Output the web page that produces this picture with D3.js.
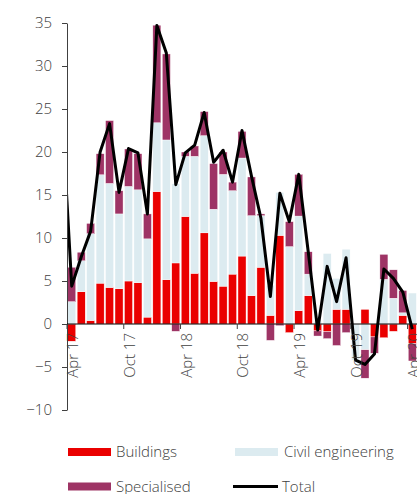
<!DOCTYPE html>
<html>
<head>
<meta charset="utf-8">
<script src="https://cdn.jsdelivr.net/npm/d3@7"></script>
<style>
  html, body { margin: 0; padding: 0; background: #fff; }
  svg text { font-family: "Open Sans", "DejaVu Sans", sans-serif; font-weight: 300; }
</style>
</head>
<body>
<div id="chart"></div>
<script>
// months, Mar 17 only feeds the start of the total line (it is clipped)
var months = ["Mar 17","Apr 17","May 17","Jun 17","Jul 17","Aug 17","Sep 17","Oct 17","Nov 17","Dec 17",
  "Jan 18","Feb 18","Mar 18","Apr 18","May 18","Jun 18","Jul 18","Aug 18","Sep 18","Oct 18","Nov 18","Dec 18",
  "Jan 19","Feb 19","Mar 19","Apr 19","May 19","Jun 19","Jul 19","Aug 19","Sep 19","Oct 19","Nov 19","Dec 19",
  "Jan 20","Feb 20","Mar 20","Apr 20"];
var tickMonths = ["Apr 17","Oct 17","Apr 18","Oct 18","Apr 19","Oct 19","Apr 20"];
var yTicks = [-10, -5, 0, 5, 10, 15, 20, 25, 30, 35];

var buildings = [null, -2.0, 3.75, 0.4, 4.75, 4.25, 4.1, 5.0, 4.8, 0.8,
  15.4, 5.15, 7.1, 12.5, 5.9, 10.6, 4.95, 4.4, 5.8, 7.9, 3.3, 6.6,
  1.0, 10.3, -1.0, 1.55, 3.3, -0.8, -0.9, 1.7, 1.7, 0, 1.7, -1.5,
  -1.6, -0.85, 1.0, -2.3];
var civil = [null, 2.6, 3.6, 10.1, 12.6, 12.1, 8.7, 11.0, 10.8, 9.1,
  8.0, 16.25, 9.2, 7.0, 13.6, 11.3, 8.4, 13.0, 9.7, 11.4, 9.3, 6.0,
  3.5, 5.0, 9.0, 11.0, 2.5, 0.3, 8.2, 3.6, 7.0, -4.2, -3.0, 0,
  5.2, 3.0, 0.3, 3.6];
var specialised = [null, 4.0, 1.0, 1.2, 2.45, 7.3, 2.7, 4.35, 4.2, 2.9,
  11.35, 10.0, -0.85, 0.5, 1.2, 2.8, 5.3, 2.6, 1.0, 3.1, 4.5, 0.2,
  -1.9, -0.2, 2.9, 4.85, 2.6, -0.6, -0.8, -2.5, -1.0, 0, -3.3, -1.9,
  2.9, 3.3, 2.6, -2.0];
var total = [24, 4.4, 7.8, 10.8, 20.0, 23.3, 15.3, 20.4, 19.9, 12.8,
  34.7, 31.5, 16.2, 19.9, 20.8, 24.6, 18.8, 20.2, 16.5, 22.5, 17.2, 12.3,
  3.2, 15.2, 11.9, 17.4, 8.4, -0.7, 6.7, 2.6, 7.7, -4.2, -4.7, -3.5,
  6.4, 5.3, 3.7, -0.6];

var keys = ["buildings", "civil", "specialised"];
var colors = { buildings: "#ea0000", civil: "#dcebf0", specialised: "#9e3465" };
var textColor = "#404040";

var chartW = 417, chartH = 494;
var plotLeft = 67, plotTop = 23, plotBottom = 410;
var step = 9.46;

var svg = d3.select("#chart").append("svg")
  .attr("width", chartW)
  .attr("height", chartH);

var x = d3.scaleBand()
  .domain(months)
  .range([plotLeft - step, plotLeft + (months.length - 1) * step])
  .paddingInner(0.15)
  .paddingOuter(0.075);

var y = d3.scaleLinear()
  .domain([-10, 35])
  .range([plotBottom, plotTop]);

svg.append("clipPath").attr("id", "plotClip")
  .append("rect").attr("x", plotLeft).attr("y", 0).attr("width", chartW - plotLeft).attr("height", chartH);

// table for the stack
var rows = [];
months.forEach(function(m, i) {
  if (buildings[i] == null) return;
  rows.push({ month: m, buildings: buildings[i], civil: civil[i], specialised: specialised[i] });
});

var series = d3.stack().keys(keys).offset(d3.stackOffsetDiverging)(rows);

var plot = svg.append("g").attr("clip-path", "url(#plotClip)");

plot.selectAll("g.layer")
  .data(series)
  .join("g")
  .attr("class", "layer")
  .attr("fill", function(d) { return colors[d.key]; })
  .selectAll("rect")
  .data(function(d) { return d; })
  .join("rect")
  .attr("x", function(d) { return x(d.data.month); })
  .attr("width", x.bandwidth())
  .attr("y", function(d) { return y(Math.max(d[0], d[1])); })
  .attr("height", function(d) { return Math.abs(y(d[0]) - y(d[1])); })
  .attr("stroke", "#fff")
  .attr("stroke-width", 0.4);

// y axis
var yAxis = svg.append("g")
  .attr("transform", "translate(" + plotLeft + ",0)")
  .call(d3.axisLeft(y).tickValues(yTicks).tickSize(5).tickSizeOuter(0).tickPadding(10));
yAxis.select(".domain").attr("stroke", textColor);
yAxis.selectAll(".tick line").attr("stroke", textColor);
yAxis.selectAll(".tick text")
  .attr("fill", textColor)
  .attr("font-size", 15);

// x axis on zero line, ticks at the left edge of each month
var xAxis = svg.append("g")
  .attr("transform", "translate(0," + y(0) + ")")
  .call(d3.axisBottom(x).tickValues(tickMonths).tickSize(5).tickSizeOuter(0));
xAxis.select(".domain").attr("d", "M" + plotLeft + ",0H" + chartW).attr("stroke", "#000");
xAxis.selectAll(".tick")
  .attr("transform", function(d) { return "translate(" + (x(d) + x.bandwidth() / 2 - x.step() / 2) + ",0)"; });
xAxis.selectAll(".tick line").attr("stroke", textColor);
xAxis.selectAll(".tick text")
  .attr("fill", textColor)
  .attr("font-size", 15)
  .attr("text-anchor", "end")
  .attr("transform", "rotate(-90)")
  .attr("x", -9)
  .attr("y", 11)
  .attr("dy", null);

// total line
var line = d3.line()
  .x(function(d, i) { return x(months[i]) + x.bandwidth() / 2; })
  .y(function(d) { return y(d); });

plot.append("path")
  .datum(total)
  .attr("d", line)
  .attr("fill", "none")
  .attr("stroke", "#000")
  .attr("stroke-width", 3)
  .attr("stroke-linejoin", "round");

// legend
var legendItems = [
  { name: "Buildings", key: "buildings", lx: 68, ly: 452 },
  { name: "Civil engineering", key: "civil", lx: 235, ly: 452 },
  { name: "Specialised", key: "specialised", lx: 68, ly: 486.5 },
  { name: "Total", key: "total", lx: 233, ly: 486.5 }
];
var legend = svg.append("g");
legendItems.forEach(function(item) {
  var g = legend.append("g").attr("transform", "translate(" + item.lx + "," + item.ly + ")");
  if (item.key == "total") {
    g.append("line").attr("x1", 0).attr("x2", 45).attr("y1", 0).attr("y2", 0)
      .attr("stroke", "#000").attr("stroke-width", 3);
  } else {
    g.append("rect").attr("x", 0).attr("y", -4).attr("width", 43).attr("height", 8)
      .attr("fill", colors[item.key]);
  }
  g.append("text")
    .attr("x", item.key == "total" || item.key == "civil" ? 49 : 48)
    .attr("y", 5)
    .attr("font-size", 15)
    .attr("fill", textColor)
    .text(item.name);
});
</script>
</body>
</html>
